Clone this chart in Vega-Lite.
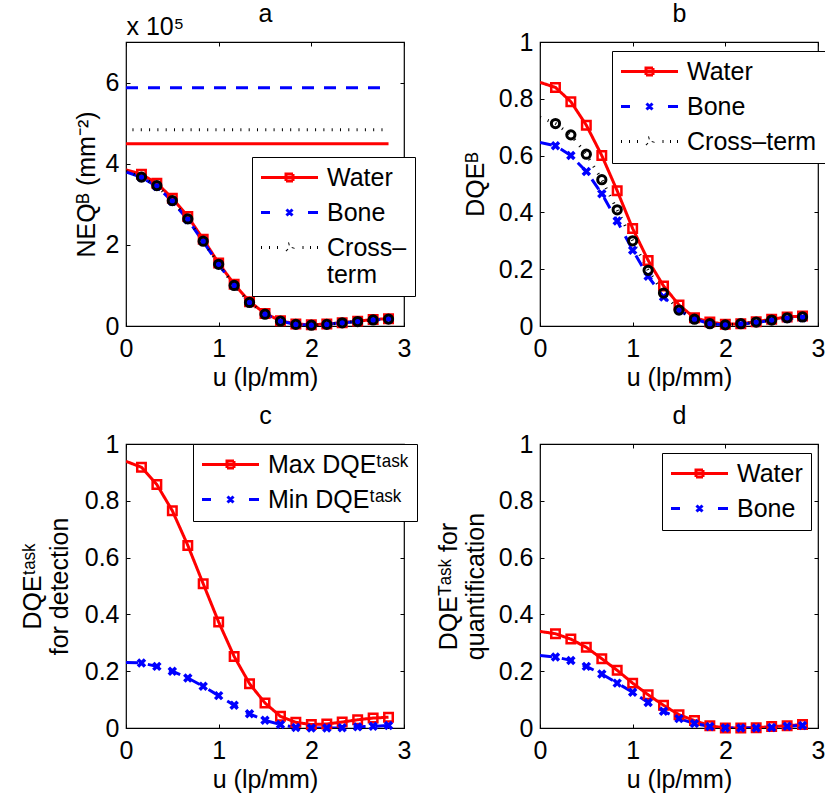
{
  "$schema": "https://vega.github.io/schema/vega-lite/v6.json",
  "background": "white",
  "padding": {"left": 19, "top": 0, "right": 0, "bottom": 0},
  "columns": 2,
  "spacing": {"row": 118, "column": 136},
  "bounds": "flush",
  "resolve": {
    "scale": {"color": "independent", "shape": "independent", "strokeDash": "independent", "strokeWidth": "independent"},
    "legend": {"color": "independent", "shape": "independent", "strokeDash": "independent", "strokeWidth": "independent"}
  },
  "config": {
    "font": "Liberation Sans",
    "view": {"stroke": "black", "strokeWidth": 1.2},
    "axis": {
      "domain": false, "grid": false, "tickColor": "black", "tickSize": -4, "tickWidth": 1,
      "labelFont": "Liberation Sans", "labelFontSize": 25, "labelColor": "black",
      "labelFlush": false, "labelOverlap": false,
      "titleFont": "Liberation Sans", "titleFontSize": 25, "titleFontWeight": "normal", "titleColor": "black"
    },
    "axisX": {"labelPadding": 14},
    "axisY": {"labelPadding": 11},
    "legend": {
      "labelFont": "Liberation Sans", "labelFontSize": 25, "labelColor": "black", "labelLimit": 400,
      "fillColor": "white", "strokeColor": "black", "strokeWidth": 1, "cornerRadius": 0,
      "padding": 8, "rowPadding": 9, "symbolSize": 400, "symbolStrokeWidth": 3,
      "symbolOffset": 17, "labelOffset": 25, "title": null
    }
  },
  "datasets": {
    "pa": [
      {"s":"Water","u":0,"v":3.85},{"s":"Water","u":0.167,"v":3.74},{"s":"Water","u":0.333,"v":3.52},{"s":"Water","u":0.5,"v":3.15},{"s":"Water","u":0.667,"v":2.70},{"s":"Water","u":0.833,"v":2.14},{"s":"Water","u":1,"v":1.55},{"s":"Water","u":1.167,"v":1.03},{"s":"Water","u":1.333,"v":0.60},{"s":"Water","u":1.5,"v":0.31},{"s":"Water","u":1.667,"v":0.13},{"s":"Water","u":1.833,"v":0.05},{"s":"Water","u":2,"v":0.03},{"s":"Water","u":2.167,"v":0.05},{"s":"Water","u":2.333,"v":0.08},{"s":"Water","u":2.5,"v":0.12},{"s":"Water","u":2.667,"v":0.16},{"s":"Water","u":2.833,"v":0.18},
      {"s":"Bone","u":0,"v":3.80},{"s":"Bone","u":0.167,"v":3.66},{"s":"Bone","u":0.333,"v":3.44},{"s":"Bone","u":0.5,"v":3.07},{"s":"Bone","u":0.667,"v":2.62},{"s":"Bone","u":0.833,"v":2.08},{"s":"Bone","u":1,"v":1.52},{"s":"Bone","u":1.167,"v":1.00},{"s":"Bone","u":1.333,"v":0.57},{"s":"Bone","u":1.5,"v":0.29},{"s":"Bone","u":1.667,"v":0.12},{"s":"Bone","u":1.833,"v":0.04},{"s":"Bone","u":2,"v":0.02},{"s":"Bone","u":2.167,"v":0.04},{"s":"Bone","u":2.333,"v":0.08},{"s":"Bone","u":2.5,"v":0.11},{"s":"Bone","u":2.667,"v":0.15},{"s":"Bone","u":2.833,"v":0.17},
      {"s":"Cross–term","u":0,"v":3.82},{"s":"Cross–term","u":0.167,"v":3.67},{"s":"Cross–term","u":0.333,"v":3.46},{"s":"Cross–term","u":0.5,"v":3.09},{"s":"Cross–term","u":0.667,"v":2.64},{"s":"Cross–term","u":0.833,"v":2.09},{"s":"Cross–term","u":1,"v":1.52},{"s":"Cross–term","u":1.167,"v":1.00},{"s":"Cross–term","u":1.333,"v":0.58},{"s":"Cross–term","u":1.5,"v":0.29},{"s":"Cross–term","u":1.667,"v":0.12},{"s":"Cross–term","u":1.833,"v":0.04},{"s":"Cross–term","u":2,"v":0.02},{"s":"Cross–term","u":2.167,"v":0.04},{"s":"Cross–term","u":2.333,"v":0.08},{"s":"Cross–term","u":2.5,"v":0.11},{"s":"Cross–term","u":2.667,"v":0.15},{"s":"Cross–term","u":2.833,"v":0.17}
    ],
    "paref": [
      {"s":"Water","u":0,"v":4.49},{"s":"Water","u":2.833,"v":4.49},
      {"s":"Bone","u":0,"v":5.87},{"s":"Bone","u":2.833,"v":5.87},
      {"s":"Cross–term","u":0.07,"v":4.84},{"s":"Cross–term","u":2.833,"v":4.84}
    ],
    "pb": [
      {"s":"Water","u":0,"v":0.858},{"s":"Water","u":0.167,"v":0.84},{"s":"Water","u":0.333,"v":0.79},{"s":"Water","u":0.5,"v":0.707},{"s":"Water","u":0.667,"v":0.60},{"s":"Water","u":0.833,"v":0.476},{"s":"Water","u":1,"v":0.343},{"s":"Water","u":1.167,"v":0.231},{"s":"Water","u":1.333,"v":0.141},{"s":"Water","u":1.5,"v":0.074},{"s":"Water","u":1.667,"v":0.029},{"s":"Water","u":1.833,"v":0.014},{"s":"Water","u":2,"v":0.006},{"s":"Water","u":2.167,"v":0.008},{"s":"Water","u":2.333,"v":0.015},{"s":"Water","u":2.5,"v":0.024},{"s":"Water","u":2.667,"v":0.032},{"s":"Water","u":2.833,"v":0.035},
      {"s":"Bone","u":0,"v":0.646},{"s":"Bone","u":0.167,"v":0.635},{"s":"Bone","u":0.333,"v":0.60},{"s":"Bone","u":0.5,"v":0.544},{"s":"Bone","u":0.667,"v":0.466},{"s":"Bone","u":0.833,"v":0.37},{"s":"Bone","u":1,"v":0.267},{"s":"Bone","u":1.167,"v":0.175},{"s":"Bone","u":1.333,"v":0.102},{"s":"Bone","u":1.5,"v":0.055},{"s":"Bone","u":1.667,"v":0.024},{"s":"Bone","u":1.833,"v":0.008},{"s":"Bone","u":2,"v":0.004},{"s":"Bone","u":2.167,"v":0.006},{"s":"Bone","u":2.333,"v":0.012},{"s":"Bone","u":2.5,"v":0.02},{"s":"Bone","u":2.667,"v":0.026},{"s":"Bone","u":2.833,"v":0.029},
      {"s":"Cross–term","u":0,"v":0.735},{"s":"Cross–term","u":0.167,"v":0.713},{"s":"Cross–term","u":0.333,"v":0.673},{"s":"Cross–term","u":0.5,"v":0.605},{"s":"Cross–term","u":0.667,"v":0.515},{"s":"Cross–term","u":0.833,"v":0.409},{"s":"Cross–term","u":1,"v":0.30},{"s":"Cross–term","u":1.167,"v":0.196},{"s":"Cross–term","u":1.333,"v":0.116},{"s":"Cross–term","u":1.5,"v":0.056},{"s":"Cross–term","u":1.667,"v":0.024},{"s":"Cross–term","u":1.833,"v":0.008},{"s":"Cross–term","u":2,"v":0.004},{"s":"Cross–term","u":2.167,"v":0.008},{"s":"Cross–term","u":2.333,"v":0.014},{"s":"Cross–term","u":2.5,"v":0.021},{"s":"Cross–term","u":2.667,"v":0.029},{"s":"Cross–term","u":2.833,"v":0.032}
    ],
    "pc": [
      {"s":"Max DQEᵗᵃˢᵏ","u":0,"v":0.939},{"s":"Max DQEᵗᵃˢᵏ","u":0.167,"v":0.918},{"s":"Max DQEᵗᵃˢᵏ","u":0.333,"v":0.857},{"s":"Max DQEᵗᵃˢᵏ","u":0.5,"v":0.765},{"s":"Max DQEᵗᵃˢᵏ","u":0.667,"v":0.643},{"s":"Max DQEᵗᵃˢᵏ","u":0.833,"v":0.508},{"s":"Max DQEᵗᵃˢᵏ","u":1,"v":0.373},{"s":"Max DQEᵗᵃˢᵏ","u":1.167,"v":0.252},{"s":"Max DQEᵗᵃˢᵏ","u":1.333,"v":0.156},{"s":"Max DQEᵗᵃˢᵏ","u":1.5,"v":0.088},{"s":"Max DQEᵗᵃˢᵏ","u":1.667,"v":0.041},{"s":"Max DQEᵗᵃˢᵏ","u":1.833,"v":0.02},{"s":"Max DQEᵗᵃˢᵏ","u":2,"v":0.012},{"s":"Max DQEᵗᵃˢᵏ","u":2.167,"v":0.014},{"s":"Max DQEᵗᵃˢᵏ","u":2.333,"v":0.021},{"s":"Max DQEᵗᵃˢᵏ","u":2.5,"v":0.029},{"s":"Max DQEᵗᵃˢᵏ","u":2.667,"v":0.035},{"s":"Max DQEᵗᵃˢᵏ","u":2.833,"v":0.038},
      {"s":"Min DQEᵗᵃˢᵏ","u":0,"v":0.231},{"s":"Min DQEᵗᵃˢᵏ","u":0.167,"v":0.229},{"s":"Min DQEᵗᵃˢᵏ","u":0.333,"v":0.217},{"s":"Min DQEᵗᵃˢᵏ","u":0.5,"v":0.2},{"s":"Min DQEᵗᵃˢᵏ","u":0.667,"v":0.176},{"s":"Min DQEᵗᵃˢᵏ","u":0.833,"v":0.147},{"s":"Min DQEᵗᵃˢᵏ","u":1,"v":0.114},{"s":"Min DQEᵗᵃˢᵏ","u":1.167,"v":0.08},{"s":"Min DQEᵗᵃˢᵏ","u":1.333,"v":0.05},{"s":"Min DQEᵗᵃˢᵏ","u":1.5,"v":0.027},{"s":"Min DQEᵗᵃˢᵏ","u":1.667,"v":0.012},{"s":"Min DQEᵗᵃˢᵏ","u":1.833,"v":0.002},{"s":"Min DQEᵗᵃˢᵏ","u":2,"v":0},{"s":"Min DQEᵗᵃˢᵏ","u":2.167,"v":0},{"s":"Min DQEᵗᵃˢᵏ","u":2.333,"v":0.001},{"s":"Min DQEᵗᵃˢᵏ","u":2.5,"v":0.004},{"s":"Min DQEᵗᵃˢᵏ","u":2.667,"v":0.006},{"s":"Min DQEᵗᵃˢᵏ","u":2.833,"v":0.009}
    ],
    "pd": [
      {"s":"Water","u":0,"v":0.34},{"s":"Water","u":0.167,"v":0.332},{"s":"Water","u":0.333,"v":0.313},{"s":"Water","u":0.5,"v":0.284},{"s":"Water","u":0.667,"v":0.244},{"s":"Water","u":0.833,"v":0.203},{"s":"Water","u":1,"v":0.158},{"s":"Water","u":1.167,"v":0.117},{"s":"Water","u":1.333,"v":0.08},{"s":"Water","u":1.5,"v":0.047},{"s":"Water","u":1.667,"v":0.026},{"s":"Water","u":1.833,"v":0.008},{"s":"Water","u":2,"v":0},{"s":"Water","u":2.167,"v":0},{"s":"Water","u":2.333,"v":0.001},{"s":"Water","u":2.5,"v":0.005},{"s":"Water","u":2.667,"v":0.008},{"s":"Water","u":2.833,"v":0.012},
      {"s":"Bone","u":0,"v":0.255},{"s":"Bone","u":0.167,"v":0.25},{"s":"Bone","u":0.333,"v":0.238},{"s":"Bone","u":0.5,"v":0.217},{"s":"Bone","u":0.667,"v":0.19},{"s":"Bone","u":0.833,"v":0.158},{"s":"Bone","u":1,"v":0.126},{"s":"Bone","u":1.167,"v":0.09},{"s":"Bone","u":1.333,"v":0.059},{"s":"Bone","u":1.5,"v":0.033},{"s":"Bone","u":1.667,"v":0.016},{"s":"Bone","u":1.833,"v":0.005},{"s":"Bone","u":2,"v":0},{"s":"Bone","u":2.167,"v":0},{"s":"Bone","u":2.333,"v":0},{"s":"Bone","u":2.5,"v":0.002},{"s":"Bone","u":2.667,"v":0.006},{"s":"Bone","u":2.833,"v":0.009}
    ]
  },
  "concat": [
    {
      "width": 278, "height": 284,
      "data": {"name": "pa"},
      "resolve": {"axis": {"x": "independent", "y": "independent"}},
      "layer": [
        {
          "mark": {"type": "line", "clip": true},
          "encoding": {
            "x": {"field": "u", "type": "quantitative", "scale": {"domain": [0, 3], "nice": false, "zero": false},
                  "axis": {"orient": "bottom", "values": [0, 1, 2, 3], "format": "~g", "title": "u (lp/mm)", "titlePadding": 4}},
            "y": {"field": "v", "type": "quantitative", "scale": {"domain": [0, 7], "nice": false},
                  "axis": {"orient": "left", "values": [0, 2, 4, 6], "format": "~g", "title": "NEQᴮ (mm⁻²)", "titlePadding": 6}},
            "color": {"field": "s", "type": "nominal", "scale": {"domain": ["Water", "Bone", "Cross–term"], "range": ["#ff0000", "#0000ff", "#000000"]}},
            "strokeDash": {"field": "s", "type": "nominal", "scale": {"domain": ["Water", "Bone", "Cross–term"], "range": [[1, 0], [12, 10], [1, 7.3]]}, "legend": null},
            "strokeWidth": {"field": "s", "type": "nominal", "scale": {"domain": ["Water", "Bone", "Cross–term"], "range": [3, 3, 3]}, "legend": null}
          }
        },
        {
          "data": {"name": "paref"},
          "mark": {"type": "line", "clip": true},
          "encoding": {
            "x": {"field": "u", "type": "quantitative", "axis": null},
            "y": {"field": "v", "type": "quantitative", "axis": null},
            "color": {"field": "s", "type": "nominal"},
            "strokeDash": {"field": "s", "type": "nominal", "legend": null},
            "strokeWidth": {"field": "s", "type": "nominal", "legend": null}
          }
        },
        {
          "transform": [{"filter": "datum.s == 'Water' && datum.u > 0"}],
          "mark": {"type": "point", "shape": "square", "filled": false, "size": 72, "strokeWidth": 2.5, "color": "#ff0000", "opacity": 1},
          "encoding": {
            "x": {"field": "u", "type": "quantitative", "axis": {"orient": "top", "values": [0, 1, 2, 3], "labels": false, "title": "a", "titleY": -21, "titleBaseline": "alphabetic"}},
            "y": {"field": "v", "type": "quantitative", "axis": {"orient": "right", "values": [0, 2, 4, 6], "labels": false, "title": "x 10⁵", "titleAngle": 0, "titleX": -278, "titleY": -8, "titleAlign": "left", "titleBaseline": "alphabetic"}}
          }
        },
        {
          "transform": [{"filter": "datum.s == 'Bone' && datum.u > 0"}],
          "mark": {"type": "point", "shape": "M-1,-1L1,1M1,-1L-1,1", "filled": false, "size": 49, "strokeWidth": 3.5, "color": "#0000ff", "opacity": 1},
          "encoding": {
            "x": {"field": "u", "type": "quantitative", "axis": null},
            "y": {"field": "v", "type": "quantitative", "axis": null}
          }
        },
        {
          "transform": [{"filter": "datum.s == 'Cross–term' && datum.u > 0"}],
          "mark": {"type": "point", "shape": "circle", "filled": false, "size": 68, "strokeWidth": 3, "color": "#000000", "opacity": 1},
          "encoding": {
            "x": {"field": "u", "type": "quantitative", "axis": null},
            "y": {"field": "v", "type": "quantitative", "axis": null}
          }
        },
        {
          "transform": [{"filter": "datum.u < 0"}],
          "mark": {"type": "point", "filled": false, "opacity": 1},
          "encoding": {
            "color": {"field": "s", "type": "nominal",
                      "legend": {"orient": "none", "legendX": 126, "legendY": 115, "labelExpr": "datum.label == 'Cross–term' ? ['Cross–', 'term'] : datum.label"}},
            "shape": {"field": "s", "type": "nominal",
                      "scale": {"domain": ["Water", "Bone", "Cross–term"], "range": [
                        "M-2.85,0H2.85M-0.35,-0.35H0.35V0.35H-0.35Z",
                        "M-2.85,0H-1.95M1.85,0H2.85M-0.3,-0.3L0.3,0.3M0.3,-0.3L-0.3,0.3",
                        "M-2.85,0h0.1M-2.05,0h0.1M-1.25,0h0.1M0.38,0L0.329,0.19L0.19,0.329L0,0.38L-0.19,0.329L-0.329,0.19L-0.38,0L-0.329,-0.19L-0.19,-0.329L0,-0.38L0.19,-0.329L0.329,-0.19ZM1.3,0h0.1M2.05,0h0.1M2.75,0h0.1"]},
                      "legend": {"orient": "none", "legendX": 126, "legendY": 115, "labelExpr": "datum.label == 'Cross–term' ? ['Cross–', 'term'] : datum.label"}}
          }
        }
      ]
    },
    {
      "width": 278, "height": 284,
      "data": {"name": "pb"},
      "resolve": {"axis": {"x": "independent", "y": "independent"}},
      "layer": [
        {
          "mark": {"type": "line", "clip": true},
          "encoding": {
            "x": {"field": "u", "type": "quantitative", "scale": {"domain": [0, 3], "nice": false, "zero": false},
                  "axis": {"orient": "bottom", "values": [0, 1, 2, 3], "format": "~g", "title": "u (lp/mm)", "titlePadding": 4}},
            "y": {"field": "v", "type": "quantitative", "scale": {"domain": [0, 1], "nice": false},
                  "axis": {"orient": "left", "values": [0, 0.2, 0.4, 0.6, 0.8, 1], "format": "~g", "title": "DQEᴮ", "titlePadding": 10}},
            "color": {"field": "s", "type": "nominal", "scale": {"domain": ["Water", "Bone", "Cross–term"], "range": ["#ff0000", "#0000ff", "#000000"]}},
            "strokeDash": {"field": "s", "type": "nominal", "scale": {"domain": ["Water", "Bone", "Cross–term"], "range": [[1, 0], [12, 10], [1, 7.3]]}, "legend": null},
            "strokeWidth": {"field": "s", "type": "nominal", "scale": {"domain": ["Water", "Bone", "Cross–term"], "range": [3, 3, 3]}, "legend": null}
          }
        },
        {
          "transform": [{"filter": "datum.s == 'Water' && datum.u > 0"}],
          "mark": {"type": "point", "shape": "square", "filled": false, "size": 72, "strokeWidth": 2.5, "color": "#ff0000", "opacity": 1},
          "encoding": {
            "x": {"field": "u", "type": "quantitative", "axis": {"orient": "top", "values": [0, 1, 2, 3], "labels": false, "title": "b", "titleY": -21, "titleBaseline": "alphabetic"}},
            "y": {"field": "v", "type": "quantitative", "axis": {"orient": "right", "values": [0, 0.2, 0.4, 0.6, 0.8, 1], "labels": false, "title": null}}
          }
        },
        {
          "transform": [{"filter": "datum.s == 'Bone' && datum.u > 0"}],
          "mark": {"type": "point", "shape": "M-1,-1L1,1M1,-1L-1,1", "filled": false, "size": 49, "strokeWidth": 3.5, "color": "#0000ff", "opacity": 1},
          "encoding": {
            "x": {"field": "u", "type": "quantitative", "axis": null},
            "y": {"field": "v", "type": "quantitative", "axis": null}
          }
        },
        {
          "transform": [{"filter": "datum.s == 'Cross–term' && datum.u > 0"}],
          "mark": {"type": "point", "shape": "circle", "filled": false, "size": 68, "strokeWidth": 3, "color": "#000000", "opacity": 1},
          "encoding": {
            "x": {"field": "u", "type": "quantitative", "axis": null},
            "y": {"field": "v", "type": "quantitative", "axis": null}
          }
        },
        {
          "transform": [{"filter": "datum.u < 0"}],
          "mark": {"type": "point", "filled": false, "opacity": 1},
          "encoding": {
            "color": {"field": "s", "type": "nominal", "legend": {"orient": "none", "legendX": 72, "legendY": 9}},
            "shape": {"field": "s", "type": "nominal",
                      "scale": {"domain": ["Water", "Bone", "Cross–term"], "range": [
                        "M-2.85,0H2.85M-0.35,-0.35H0.35V0.35H-0.35Z",
                        "M-2.85,0H-1.95M1.85,0H2.85M-0.3,-0.3L0.3,0.3M0.3,-0.3L-0.3,0.3",
                        "M-2.85,0h0.1M-2.05,0h0.1M-1.25,0h0.1M0.38,0L0.329,0.19L0.19,0.329L0,0.38L-0.19,0.329L-0.329,0.19L-0.38,0L-0.329,-0.19L-0.19,-0.329L0,-0.38L0.19,-0.329L0.329,-0.19ZM1.3,0h0.1M2.05,0h0.1M2.75,0h0.1"]},
                      "legend": {"orient": "none", "legendX": 72, "legendY": 9}}
          }
        }
      ]
    },
    {
      "width": 278, "height": 284,
      "data": {"name": "pc"},
      "resolve": {"axis": {"x": "independent", "y": "independent"}},
      "layer": [
        {
          "mark": {"type": "line", "clip": true},
          "encoding": {
            "x": {"field": "u", "type": "quantitative", "scale": {"domain": [0, 3], "nice": false, "zero": false},
                  "axis": {"orient": "bottom", "values": [0, 1, 2, 3], "format": "~g", "title": "u (lp/mm)", "titlePadding": 4}},
            "y": {"field": "v", "type": "quantitative", "scale": {"domain": [0, 1], "nice": false},
                  "axis": {"orient": "left", "values": [0, 0.2, 0.4, 0.6, 0.8, 1], "format": "~g", "title": ["DQEᵗᵃˢᵏ", "for detection"], "titlePadding": 12}},
            "color": {"field": "s", "type": "nominal", "scale": {"domain": ["Max DQEᵗᵃˢᵏ", "Min DQEᵗᵃˢᵏ"], "range": ["#ff0000", "#0000ff"]}},
            "strokeDash": {"field": "s", "type": "nominal", "scale": {"domain": ["Max DQEᵗᵃˢᵏ", "Min DQEᵗᵃˢᵏ"], "range": [[1, 0], [12, 10]]}, "legend": null},
            "strokeWidth": {"value": 3}
          }
        },
        {
          "transform": [{"filter": "datum.s == 'Max DQEᵗᵃˢᵏ' && datum.u > 0"}],
          "mark": {"type": "point", "shape": "square", "filled": false, "size": 72, "strokeWidth": 2.5, "color": "#ff0000", "opacity": 1},
          "encoding": {
            "x": {"field": "u", "type": "quantitative", "axis": {"orient": "top", "values": [0, 1, 2, 3], "labels": false, "title": "c", "titleY": -21, "titleBaseline": "alphabetic"}},
            "y": {"field": "v", "type": "quantitative", "axis": {"orient": "right", "values": [0, 0.2, 0.4, 0.6, 0.8, 1], "labels": false, "title": null}}
          }
        },
        {
          "transform": [{"filter": "datum.s == 'Min DQEᵗᵃˢᵏ' && datum.u > 0"}],
          "mark": {"type": "point", "shape": "M-1,-1L1,1M1,-1L-1,1", "filled": false, "size": 49, "strokeWidth": 3.5, "color": "#0000ff", "opacity": 1},
          "encoding": {
            "x": {"field": "u", "type": "quantitative", "axis": null},
            "y": {"field": "v", "type": "quantitative", "axis": null}
          }
        },
        {
          "transform": [{"filter": "datum.u < 0"}],
          "mark": {"type": "point", "filled": false, "opacity": 1},
          "encoding": {
            "color": {"field": "s", "type": "nominal", "legend": {"orient": "none", "legendX": 67, "legendY": 0}},
            "shape": {"field": "s", "type": "nominal",
                      "scale": {"domain": ["Max DQEᵗᵃˢᵏ", "Min DQEᵗᵃˢᵏ"], "range": [
                        "M-2.85,0H2.85M-0.35,-0.35H0.35V0.35H-0.35Z",
                        "M-2.85,0H-1.95M1.85,0H2.85M-0.3,-0.3L0.3,0.3M0.3,-0.3L-0.3,0.3"]},
                      "legend": {"orient": "none", "legendX": 67, "legendY": 0}}
          }
        }
      ]
    },
    {
      "width": 278, "height": 284,
      "data": {"name": "pd"},
      "resolve": {"axis": {"x": "independent", "y": "independent"}},
      "layer": [
        {
          "mark": {"type": "line", "clip": true},
          "encoding": {
            "x": {"field": "u", "type": "quantitative", "scale": {"domain": [0, 3], "nice": false, "zero": false},
                  "axis": {"orient": "bottom", "values": [0, 1, 2, 3], "format": "~g", "title": "u (lp/mm)", "titlePadding": 4}},
            "y": {"field": "v", "type": "quantitative", "scale": {"domain": [0, 1], "nice": false},
                  "axis": {"orient": "left", "values": [0, 0.2, 0.4, 0.6, 0.8, 1], "format": "~g", "title": ["DQEᵀᵃˢᵏ for", "quantification"], "titlePadding": 10}},
            "color": {"field": "s", "type": "nominal", "scale": {"domain": ["Water", "Bone"], "range": ["#ff0000", "#0000ff"]}},
            "strokeDash": {"field": "s", "type": "nominal", "scale": {"domain": ["Water", "Bone"], "range": [[1, 0], [12, 10]]}, "legend": null},
            "strokeWidth": {"value": 3}
          }
        },
        {
          "transform": [{"filter": "datum.s == 'Water' && datum.u > 0"}],
          "mark": {"type": "point", "shape": "square", "filled": false, "size": 72, "strokeWidth": 2.5, "color": "#ff0000", "opacity": 1},
          "encoding": {
            "x": {"field": "u", "type": "quantitative", "axis": {"orient": "top", "values": [0, 1, 2, 3], "labels": false, "title": "d", "titleY": -21, "titleBaseline": "alphabetic"}},
            "y": {"field": "v", "type": "quantitative", "axis": {"orient": "right", "values": [0, 0.2, 0.4, 0.6, 0.8, 1], "labels": false, "title": null}}
          }
        },
        {
          "transform": [{"filter": "datum.s == 'Bone' && datum.u > 0"}],
          "mark": {"type": "point", "shape": "M-1,-1L1,1M1,-1L-1,1", "filled": false, "size": 49, "strokeWidth": 3.5, "color": "#0000ff", "opacity": 1},
          "encoding": {
            "x": {"field": "u", "type": "quantitative", "axis": null},
            "y": {"field": "v", "type": "quantitative", "axis": null}
          }
        },
        {
          "transform": [{"filter": "datum.u < 0"}],
          "mark": {"type": "point", "filled": false, "opacity": 1},
          "encoding": {
            "color": {"field": "s", "type": "nominal", "legend": {"orient": "none", "legendX": 122, "legendY": 9}},
            "shape": {"field": "s", "type": "nominal",
                      "scale": {"domain": ["Water", "Bone"], "range": [
                        "M-2.85,0H2.85M-0.35,-0.35H0.35V0.35H-0.35Z",
                        "M-2.85,0H-1.95M1.85,0H2.85M-0.3,-0.3L0.3,0.3M0.3,-0.3L-0.3,0.3"]},
                      "legend": {"orient": "none", "legendX": 122, "legendY": 9}}
          }
        }
      ]
    }
  ]
}
